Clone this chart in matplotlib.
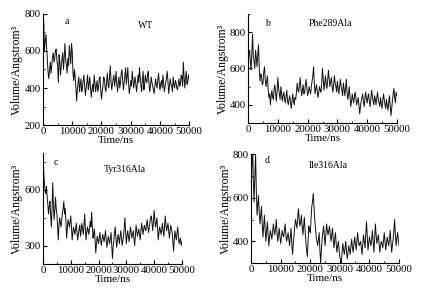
import numpy as np
import matplotlib.pyplot as plt
from matplotlib.ticker import MultipleLocator

plt.rcParams['font.family'] = ['Liberation Serif', 'DejaVu Serif']

# volume traces, one sample every 250 ns from 0 to 50000 ns
vol_wt = [720, 760, 600, 650, 690, 620, 560, 480, 450, 500, 540, 480, 520, 570, 590, 540, 560, 600, 610, 550,
          520, 430, 580, 540, 470, 520, 560, 590, 500, 560, 640, 560, 520, 480, 560, 520, 630, 580, 530, 640,
          600, 480, 440, 500, 460, 400, 330, 390, 430, 460, 380, 420, 450, 380, 400, 440, 470, 410, 360, 400,
          430, 470, 390, 420, 460, 400, 350, 390, 420, 380, 470, 430, 380, 410, 440, 380, 400, 450, 460, 390,
          340, 380, 410, 460, 450, 400, 380, 430, 480, 420, 400, 460, 520, 440, 390, 420, 450, 470, 410, 440,
          490, 420, 380, 430, 460, 400, 430, 480, 500, 440, 390, 430, 470, 510, 420, 460, 510, 430, 370, 400,
          440, 410, 490, 450, 400, 430, 460, 420, 380, 420, 470, 430, 510, 460, 410, 380, 450, 490, 390, 420,
          470, 440, 430, 470, 490, 420, 380, 410, 460, 430, 410, 390, 370, 410, 450, 420, 400, 440, 480, 430,
          390, 420, 440, 400, 470, 430, 380, 410, 430, 460, 490, 430, 370, 410, 450, 420, 410, 380, 460, 420,
          400, 440, 430, 400, 390, 420, 450, 410, 420, 470, 460, 410, 540, 460, 400, 450, 490, 420, 430, 470,
          450]

vol_phe = [620, 680, 700, 640, 590, 680, 790, 660, 640, 600, 700, 660, 610, 680, 730, 600, 530, 570, 560, 510,
           520, 580, 610, 540, 500, 530, 560, 480, 440, 460, 400, 450, 480, 440, 430, 490, 510, 460, 420, 480,
           550, 490, 460, 430, 500, 460, 420, 450, 470, 430, 410, 450, 480, 420, 400, 430, 450, 410, 380, 420,
           460, 420, 400, 440, 430, 470, 520, 480, 470, 510, 550, 490, 450, 480, 510, 460, 470, 510, 540, 490,
           450, 470, 500, 480, 460, 500, 530, 560, 610, 520, 460, 490, 510, 470, 440, 470, 500, 480, 470, 520,
           600, 540, 480, 520, 560, 510, 490, 540, 590, 540, 500, 530, 550, 500, 470, 510, 560, 520, 500, 470,
           530, 490, 460, 500, 540, 500, 480, 450, 520, 490, 450, 490, 540, 470, 430, 460, 500, 440, 390, 420,
           460, 430, 410, 450, 470, 430, 400, 420, 440, 400, 350, 390, 420, 440, 460, 420, 390, 430, 470, 440,
           410, 440, 460, 420, 390, 430, 480, 450, 420, 400, 450, 430, 400, 440, 470, 430, 410, 390, 440, 410,
           380, 420, 460, 430, 400, 380, 430, 400, 370, 410, 450, 400, 340, 380, 420, 460, 490, 440, 410, 470,
           450]

vol_tyr = [780, 700, 640, 600, 580, 620, 560, 520, 470, 510, 540, 460, 400, 500, 640, 520, 440, 490, 560, 500,
           470, 400, 330, 410, 450, 420, 400, 440, 480, 500, 540, 470, 500, 430, 340, 390, 440, 420, 400, 430,
           460, 400, 330, 370, 400, 380, 360, 390, 420, 370, 330, 360, 390, 410, 350, 380, 420, 390, 360, 410,
           470, 390, 330, 370, 400, 380, 360, 400, 430, 400, 480, 410, 340, 360, 390, 330, 260, 310, 350, 330,
           310, 340, 370, 330, 300, 330, 360, 340, 320, 350, 380, 330, 290, 320, 350, 330, 310, 340, 370, 300,
           230, 290, 330, 370, 400, 340, 290, 320, 360, 340, 310, 350, 380, 340, 300, 330, 350, 400, 450, 370,
           310, 350, 380, 350, 320, 360, 400, 370, 340, 360, 380, 340, 300, 350, 410, 380, 350, 370, 390, 360,
           330, 380, 420, 390, 360, 390, 410, 390, 380, 410, 440, 400, 370, 400, 430, 450, 460, 420, 380, 430,
           490, 440, 400, 420, 450, 390, 330, 370, 400, 380, 360, 390, 420, 380, 350, 400, 460, 410, 380, 400,
           420, 380, 340, 380, 410, 390, 370, 320, 270, 330, 380, 350, 330, 370, 400, 350, 310, 330, 340, 300,
           320]

vol_ile = [600, 750, 820, 680, 580, 700, 800, 640, 520, 570, 610, 530, 480, 520, 560, 480, 420, 470, 520, 450,
           400, 450, 490, 430, 380, 420, 450, 430, 410, 440, 480, 450, 430, 460, 500, 440, 400, 430, 460, 420,
           390, 420, 450, 430, 420, 450, 480, 430, 400, 420, 440, 410, 380, 420, 460, 390, 340, 390, 430, 470,
           500, 480, 460, 510, 550, 500, 470, 490, 520, 470, 430, 470, 510, 450, 400, 360, 330, 400, 470, 450,
           440, 500, 560, 580, 620, 560, 500, 460, 420, 400, 380, 410, 440, 360, 300, 360, 410, 440, 470, 420,
           380, 430, 480, 450, 430, 450, 470, 430, 400, 430, 460, 410, 370, 410, 440, 390, 350, 380, 400, 360,
           330, 310, 300, 350, 390, 360, 340, 370, 400, 350, 320, 350, 380, 360, 340, 380, 410, 370, 350, 390,
           420, 390, 360, 400, 440, 400, 380, 390, 400, 370, 340, 390, 430, 400, 370, 430, 490, 420, 360, 390,
           420, 400, 380, 410, 450, 400, 350, 410, 480, 430, 390, 410, 430, 390, 350, 380, 400, 390, 370, 400,
           440, 400, 360, 390, 420, 400, 380, 410, 450, 400, 350, 380, 410, 450, 500, 430, 380, 410, 440, 410,
           380]

fig = plt.figure(figsize=(4.30, 2.97), dpi=100)

panels = [
    # axes rect, data, ylim, y major step, letter, letter pos, name, name pos
    ([0.100, 0.579, 0.340, 0.374], vol_wt, (200, 800), 200, 'a', (0.16, 0.93), 'WT', (0.70, 0.90)),
    ([0.577, 0.586, 0.346, 0.367], vol_phe, (300, 900), 200, 'b', (0.13, 0.91), 'Phe289Ala', (0.55, 0.91)),
    ([0.100, 0.111, 0.323, 0.374], vol_tyr, (200, 800), 300, 'c', (0.09, 0.91), 'Tyr316Ala', (0.59, 0.85)),
    ([0.584, 0.114, 0.344, 0.367], vol_ile, (300, 800), 200, 'd', (0.11, 0.94), 'Ile316Ala', (0.52, 0.90)),
]

for rect, vol, ylim, ymaj, let, lpos, name, npos in panels:
    t = np.linspace(0, 50000, len(vol))
    ax = fig.add_axes(rect)
    ax.plot(t, vol, color='#111111', linewidth=0.7)
    ax.set_xlim(0, 50000)
    ax.set_ylim(*ylim)
    ax.xaxis.set_major_locator(MultipleLocator(10000))
    ax.xaxis.set_minor_locator(MultipleLocator(5000))
    ax.yaxis.set_major_locator(MultipleLocator(ymaj))
    ax.yaxis.set_minor_locator(MultipleLocator(ymaj / 2))
    ax.spines['top'].set_visible(False)
    ax.spines['right'].set_visible(False)
    ax.tick_params(direction='in', which='both', labelsize=7.8, pad=1.5)
    ax.tick_params(which='major', length=3)
    ax.tick_params(which='minor', length=1.5)
    ax.set_xlabel('Time/ns', fontsize=8, labelpad=0)
    ax.set_ylabel('Volume/Angstrom³', fontsize=8.5, labelpad=1)
    ax.text(lpos[0], lpos[1], let, transform=ax.transAxes, fontsize=7, ha='center', va='center')
    ax.text(npos[0], npos[1], name, transform=ax.transAxes, fontsize=7, ha='center', va='center')

plt.savefig('out.png', dpi=100)
